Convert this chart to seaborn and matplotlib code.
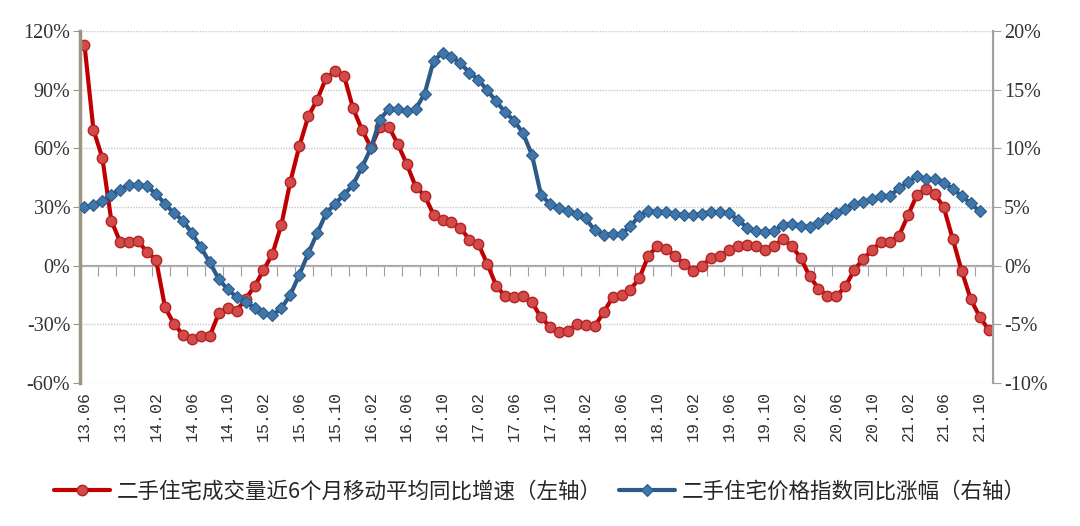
import numpy as np
import pandas as pd
import matplotlib
matplotlib.use("Agg")
import matplotlib.pyplot as plt
import seaborn as sns

# monthly categories 13.06 .. 21.11
months = pd.period_range("2013-06", "2021-11", freq="M").strftime("%y.%m").tolist()

# 二手住宅成交量近6个月移动平均同比增速 (%), left axis
volume_yoy = [113, 69.5, 55, 23, 12, 12, 12.4, 7, 3, -21.3,
              -29.8, -35.3, -37.6, -35.8, -36, -24.4, -21.7, -23, -17, -10.6,
              -2.3, 6, 21, 43, 61, 76.3, 84.9, 96, 99.4, 97,
              80.6, 69.5, 60.5, 70.9, 71.1, 62.2, 52, 40.4, 35.8, 26.1,
              23.5, 22.5, 19.3, 13.3, 11.1, 0.9, -10.2, -15.7, -15.9, -15.7,
              -18.8, -26.4, -31.2, -34.1, -33.6, -29.8, -30.3, -31, -23.9, -16.2,
              -14.8, -12.3, -6.3, 5.1, 9.9, 8.5, 5.1, 0.6, -2.6, 0,
              3.9, 5, 7.8, 10.1, 10.7, 10.1, 8, 10, 13.4, 10.1,
              4.1, -5.3, -11.7, -15.3, -15.7, -10.6, -2.2, 3.5, 8, 12.3,
              12.3, 15.3, 25.7, 36.2, 39.2, 36.6, 29.8, 13.6, -2.6, -17,
              -26, -32.8]

# 二手住宅价格指数同比涨幅 (%), right axis
price_yoy = [4.97, 5.17, 5.54, 6.05, 6.48, 6.88, 6.9, 6.76, 6.11, 5.26,
             4.46, 3.84, 2.76, 1.56, 0.28, -1.14, -2.03, -2.67, -3.1, -3.6,
             -4.05, -4.22, -3.62, -2.48, -0.78, 1.05, 2.77, 4.46, 5.28, 6.05,
             6.9, 8.38, 10.0, 12.45, 13.35, 13.35, 13.15, 13.35, 14.65, 17.45,
             18.15, 17.8, 17.25, 16.45, 15.85, 14.95, 14.0, 13.07, 12.36, 11.28,
             9.42, 6.05, 5.26, 4.9, 4.69, 4.38, 4.02, 3.01, 2.64, 2.7,
             2.7, 3.37, 4.26, 4.66, 4.6, 4.6, 4.4, 4.32, 4.3, 4.43,
             4.59, 4.55, 4.46, 3.93, 3.24, 2.94, 2.87, 2.94, 3.47, 3.58,
             3.41, 3.27, 3.65, 4.02, 4.46, 4.85, 5.24, 5.44, 5.68, 5.92,
             5.97, 6.58, 7.13, 7.61, 7.39, 7.36, 7.06, 6.53, 5.94, 5.31,
             4.63]

labels = ["二手住宅成交量近6个月移动平均同比增速（左轴）",
          "二手住宅价格指数同比涨幅（右轴）"]

left_ticks = list(range(-60, 121, 30))
right_ticks = list(range(-10, 21, 5))

sns.set_style("white")
plt.rcParams['font.family'] = ['Noto Sans CJK SC', 'DejaVu Sans']
plt.rcParams['axes.unicode_minus'] = False

df_vol = pd.DataFrame({"idx": np.arange(len(volume_yoy)), "val": volume_yoy})
df_price = pd.DataFrame({"idx": np.arange(len(price_yoy)), "val": price_yoy})

fig = plt.figure(figsize=(10.8, 5.26), dpi=100)
ax = fig.add_axes([80 / 1080, 1 - 383 / 526, 913 / 1080, 352 / 526])
ax2 = ax.twinx()

sns.lineplot(data=df_vol, x="idx", y="val", ax=ax, color="#c00000", linewidth=3,
             marker="o", markersize=7.5, markerfacecolor="#d24a4a",
             markeredgecolor="#b52222", markeredgewidth=1, legend=False)
sns.lineplot(data=df_price, x="idx", y="val", ax=ax2, color="#2d5a87", linewidth=3,
             marker="D", markersize=6, markerfacecolor="#3f77ad",
             markeredgecolor="#2d5a87", markeredgewidth=0.8, legend=False)

n = len(months)
ax.set_xlim(-0.5, n - 0.5)
ax.set_ylim(-60, 120)
ax2.set_ylim(-10, 20)
ax.set_xlabel("")
ax.set_ylabel("")
ax2.set_ylabel("")

ax.set_yticks(left_ticks, [f"{v}%" for v in left_ticks],
              fontfamily="Liberation Serif", fontsize=14.5)
ax2.set_yticks(right_ticks, [f"{v}%" for v in right_ticks],
               fontfamily="Liberation Serif", fontsize=14.5)
ax.yaxis.grid(True, color="#c8c8c8", linestyle=(0, (1, 1)), linewidth=1)
ax.set_axisbelow(True)

ax.set_xticks(np.arange(0, n, 4), months[::4], rotation=90,
              fontfamily="Liberation Mono", fontsize=12)
ax.tick_params(axis="x", length=0, pad=6, colors="#333333")
ax.tick_params(axis="y", left=True, length=5, color="#9b9480", labelcolor="#333333", pad=2)
ax2.tick_params(axis="y", right=True, length=6, color="#a0a0a0", labelcolor="#333333", pad=2)

for a in (ax, ax2):
    a.spines["top"].set_visible(False)
    a.spines["bottom"].set_visible(False)
ax2.spines["left"].set_visible(False)
ax.spines["left"].set_color("#9b9480")
ax.spines["left"].set_linewidth(2.5)
ax2.spines["right"].set_color("#a0a0a0")
ax2.spines["right"].set_linewidth(1.5)

# category axis crossing at 0% with marks every two months
zero_axis = ax.secondary_xaxis(1 / 3)
zero_axis.set_xticks(np.arange(1.5, n - 1, 2))
zero_axis.tick_params(axis="x", direction="out", length=7, color="#a0a0a0",
                      labelbottom=False, labeltop=False)
for s in zero_axis.spines.values():
    s.set_color("#a0a0a0")
    s.set_linewidth(1.5)

handles = [ax.get_lines()[0], ax2.get_lines()[0]]
fig.legend(handles, labels, loc="center", bbox_to_anchor=(0.5, 0.065), ncol=2,
           frameon=False, fontsize=15.5, handlelength=2.6, columnspacing=0.8,
           handletextpad=0.3, prop={"family": ["Noto Sans CJK SC", "DejaVu Sans"],
                                    "size": 15.5, "weight": "light"})

fig.savefig("out.png", dpi=100)
